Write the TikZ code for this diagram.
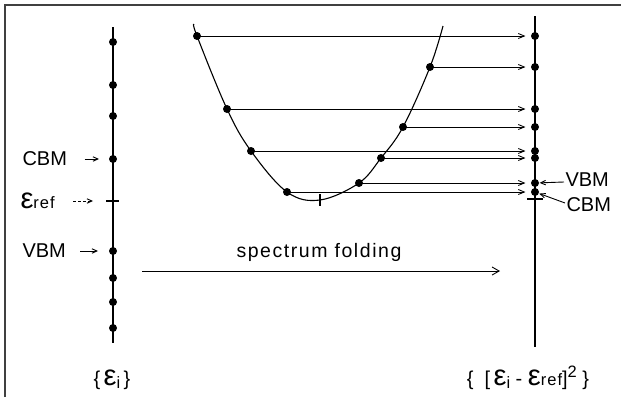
\documentclass[tikz,border=0pt]{standalone}
\usepackage{fontspec}
\setmainfont{Liberation Sans}
\usetikzlibrary{arrows.meta}

\newcommand{\epsbig}{{\fontsize{29}{29}\selectfont ε}}
\newcommand{\subsm}[1]{{\fontsize{16.5}{16.5}\selectfont\addfontfeature{LetterSpace=6}#1}}

\begin{document}
\begin{tikzpicture}[x=1pt, y=-1pt,
        line width=1.1pt,
        >={Straight Barb[length=6pt,width=5pt]},
        dot/.style={circle, fill=black, inner sep=0pt, minimum size=8pt},
        lbl/.style={font=\fontsize{20}{22}\selectfont, inner sep=1pt},
        axis/.style={line width=1.5pt},
        small/.style={->, line width=0.9pt, >={Straight Barb[length=5pt,width=4.5pt]}}
    ]
    \useasboundingbox (0,0) rectangle (621,397);
    \draw[line width=1.6pt, black!75] (5,397) -- (5,5) -- (621,5);

    % left: the spectrum
    \draw[axis] (113,27) -- (113,343);
    \foreach \n/\y in {1/42, 2/85, 3/116, 4/159, 5/251, 6/278, 7/302, 8/328}
        \node[dot] (l\n) at (113,\y) {};
    \coordinate (lref) at (113,201);
    \draw ([xshift=-7pt]lref) -- ([xshift=6pt]lref);

    \node[lbl, anchor=west] (cbmL) at (21,159) {CBM};
    \node[lbl, anchor=base west] (refL) at (19,208) {\epsbig\subsm{ref}};
    \node[lbl, anchor=west] (vbmL) at (21,251) {VBM};
    \draw[small] ([xshift=16pt]cbmL.east) -- ([xshift=-14pt]l4.center);
    \draw[small, dash pattern=on 3pt off 2pt] ([xshift=-40pt]lref) -- ([xshift=-20pt]lref);
    \draw[small] ([xshift=13pt]vbmL.east) -- ([xshift=-15pt]l5.center);
    \node[lbl, anchor=base] (epsi) at (112,385) {\{\,\epsbig\raisebox{-3pt}{\subsm{i}}\,\}};

    % the folded function
    \coordinate (p1) at (197,36);
    \coordinate (q1) at (430,67);
    \coordinate (p2) at (227,109);
    \coordinate (q2) at (403,127);
    \coordinate (p3) at (251,151);
    \coordinate (q3) at (381,158);
    \coordinate (q4) at (359,183);
    \coordinate (p4) at (287,192);
    \coordinate (bottom) at (320,200);
    \draw plot[smooth, tension=0.6] coordinates {(194,24) (p1) (p2) (p3) (p4) (bottom) (q4) (q3) (q2) (q1) (443,26)};
    \draw (bottom) ++(0,-6) -- ++(0,12);

    % right: the folded spectrum
    \draw[axis] (535,16) -- (535,347);
    \foreach \p in {p1,p2,p3,p4,q1,q2,q3,q4} {
        \node[dot] at (\p) {};
        \node[dot] (r\p) at (535,0 |- \p) {};
        \draw[->, line width=0.9pt, shorten >=5pt] (\p) -- (r\p);
    }
    \coordinate (rref) at (535,199);
    \draw ([xshift=-8pt]rref) -- ([xshift=8pt]rref);

    \node[lbl, anchor=west] (vbmR) at (564,180) {VBM};
    \node[lbl, anchor=west] (cbmR) at (565,205) {CBM};
    \draw[small] ([yshift=-2pt]vbmR.west) -- ([xshift=6pt]rq4);
    \draw[small] ([yshift=2pt]cbmR.west) -- ([xshift=5pt,yshift=3pt]rp4);

    \node[lbl, anchor=base] (epsq) at (528,385) {\{\ \ [\,\epsbig\raisebox{-3pt}{\subsm{i}}\ -\ \epsbig\subsm{ref}]\raisebox{8pt}{\subsm{2}}\ \}};

    % the folding arrow
    \node[lbl, font=\fontsize{19.5}{22}\selectfont\addfontfeature{LetterSpace=8}] (fold) at (319,252) {spectrum folding};
    \draw[->, line width=0.9pt, >={Straight Barb[length=7pt,width=8pt]}] (142,271) -- (500,271);
\end{tikzpicture}
\end{document}
